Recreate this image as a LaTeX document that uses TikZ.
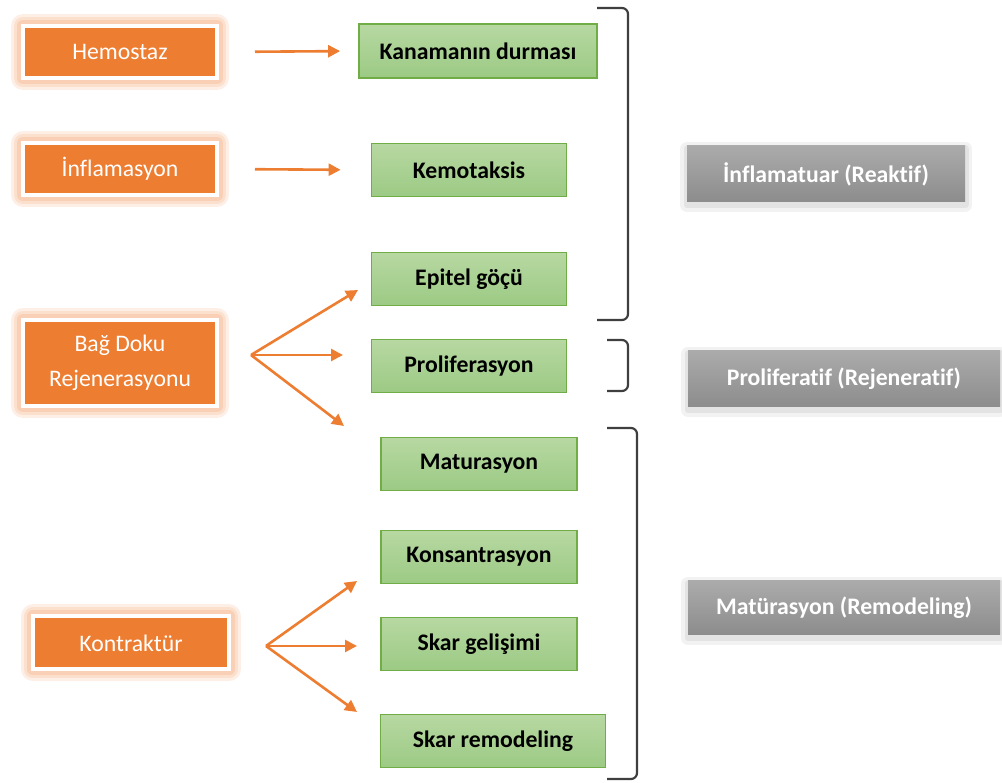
\documentclass[tikz,border=0pt]{standalone}
\usepackage{fontspec}
\setmainfont[Ligatures=NoCommon]{Carlito}
\usepackage{tikz}
\usetikzlibrary{arrows.meta}

\definecolor{turuncu}{HTML}{ED7D31}
\definecolor{isik}{HTML}{F8CBAD}
\definecolor{yesilcizgi}{HTML}{70AD47}
\definecolor{yesilust}{HTML}{B7D8A2}
\definecolor{yesilalt}{HTML}{9CCA84}
\definecolor{griust}{HTML}{ABABAB}
\definecolor{grialt}{HTML}{8C8C8C}
\definecolor{parantez}{HTML}{3F3F3F}

\newcommand{\pxu}{0.02cm}

\begin{document}
\begin{tikzpicture}[x=0.02cm, y=-0.02cm,
    yazi/.style={font=\fontsize{13.5}{20}\selectfont},
    asama/.style={yazi, text=white, fill=turuncu, draw=white, line width=4*\pxu,
        preaction={draw=isik!30, line width=24*\pxu, line join=round},
        preaction={draw=isik!60, line width=18*\pxu, line join=round},
        preaction={draw=isik!90, line width=12*\pxu, line join=round},
        align=center, inner sep=0pt},
    olay/.style={yazi, font=\fontsize{13.5}{20}\selectfont\bfseries, draw=yesilcizgi,
        line width=1.8*\pxu, top color=yesilust, bottom color=yesilalt, inner sep=0pt},
    evre/.style={yazi, font=\fontsize{13.5}{20}\selectfont\bfseries, text=white,
        top color=griust, bottom color=grialt, inner sep=0pt,
        preaction={draw=black!5, line width=14*\pxu, line join=round, transform canvas={yshift=-3*\pxu}},
        preaction={draw=black!11, line width=7*\pxu, line join=round, transform canvas={yshift=-3*\pxu}}},
    ok/.style={draw=turuncu, line width=2.6*\pxu, -{Triangle[length=12*\pxu, width=12*\pxu]}},
    kapa/.style={draw=parantez, line width=2.2*\pxu, rounded corners=6*\pxu}]

    \useasboundingbox (0, 0) rectangle (1002, 783);

    % turuncu kutular
    \node[asama, minimum width=194*\pxu, minimum height=52*\pxu] (hemo) at (120, 52) {Hemostaz};
    \node[asama, minimum width=194*\pxu, minimum height=52*\pxu] (infl) at (120, 169) {İnflamasyon};
    \node[asama, minimum width=194*\pxu, minimum height=86*\pxu] (bag) at (120, 363) {Bağ Doku\\Rejenerasyonu};
    \node[asama, minimum width=196*\pxu, minimum height=53*\pxu] (kont) at (131, 643) {Kontraktür};

    % yesil kutular
    \node[olay, minimum width=238*\pxu, minimum height=54*\pxu] (kana) at (478, 51) {Kanamanın durması};
    \node[olay, minimum width=195*\pxu, minimum height=53*\pxu] (kemo) at (469, 170) {Kemotaksis};
    \node[olay, minimum width=195*\pxu, minimum height=53*\pxu] (epit) at (469, 279) {Epitel göçü};
    \node[olay, minimum width=195*\pxu, minimum height=53*\pxu] (prol) at (469, 366) {Proliferasyon};
    \node[olay, minimum width=196*\pxu, minimum height=53*\pxu] (matu) at (479, 464) {Maturasyon};
    \node[olay, minimum width=196*\pxu, minimum height=53*\pxu] (kons) at (479, 557) {Konsantrasyon};
    \node[olay, minimum width=196*\pxu, minimum height=53*\pxu] (skar) at (479, 644) {Skar gelişimi};
    \node[olay, minimum width=225*\pxu, minimum height=53*\pxu] (skrm) at (493, 741) {Skar remodeling};

    % gri kutular
    \node[evre, minimum width=278*\pxu, minimum height=56*\pxu] (reak) at (826, 174) {İnflamatuar (Reaktif)};
    \node[evre, minimum width=312*\pxu, minimum height=56*\pxu] (reje) at (844, 379) {Proliferatif (Rejeneratif)};
    \node[evre, minimum width=312*\pxu, minimum height=54*\pxu] (remo) at (844, 608) {Matürasyon (Remodeling)};


    \draw[ok, shorten <=36*\pxu, shorten >=18*\pxu] (hemo.east) -- (kana.west);
    \draw[ok, shorten <=36*\pxu, shorten >=30*\pxu] (infl.east) -- (kemo.west);

    \coordinate (bagfan) at (251, 355);
    \coordinate (bagust) at (358, 290);
    \coordinate (bagorta) at (343, 355);
    \coordinate (bagalt) at (344, 426);
    \draw[ok] (bagfan) -- (bagust);
    \draw[ok] (bagfan) -- (bagorta);
    \draw[ok] (bagfan) -- (bagalt);

    \coordinate (kontfan) at (266, 646);
    \coordinate (kontust) at (357, 581);
    \coordinate (kontorta) at (357, 646);
    \coordinate (kontalt) at (357, 712);
    \draw[ok] (kontfan) -- (kontust);
    \draw[ok] (kontfan) -- (kontorta);
    \draw[ok] (kontfan) -- (kontalt);


    % parantezler
    \draw[kapa] (597, 8) -- (628, 8) -- (628, 320) -- (597, 320);
    \draw[kapa] (607, 340) -- (628, 340) -- (628, 391) -- (607, 391);
    \draw[kapa] (607, 428) -- (637, 428) -- (637, 779) -- (607, 779);
\end{tikzpicture}
\end{document}
